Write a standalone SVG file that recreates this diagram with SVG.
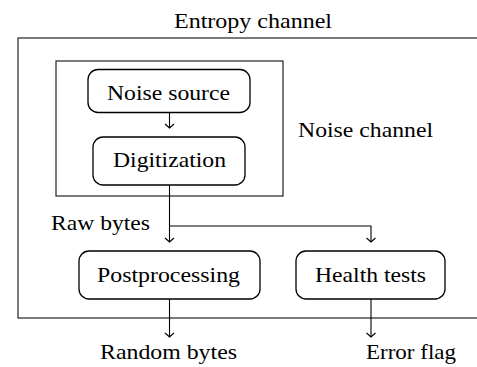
<svg xmlns="http://www.w3.org/2000/svg" width="477" height="367" viewBox="0 0 477 367">
  <style>
    text { font-family: "Liberation Serif", "Times New Roman", serif; font-size: 21px; fill: #000; text-anchor: middle; }
    .frame { fill: none; stroke: #222; stroke-width: 1.2; }
    .node { fill: #fff; stroke: #000; stroke-width: 1.3; }
    .conn { fill: none; stroke: #000; stroke-width: 1.1; marker-end: url(#arr); }
  </style>
  <defs>
    <marker id="arr" markerUnits="userSpaceOnUse" viewBox="-6 -6 12 12" markerWidth="12" markerHeight="12" refX="0" refY="0" orient="auto">
      <path d="M -4 -4.5 Q -1 -1 0 0 Q -1 1 -4 4.5" fill="none" stroke="#000" stroke-width="1.1"/>
    </marker>
  </defs>

  <g id="entropy-channel">
    <rect class="frame" x="18" y="38" width="470" height="280"/>
    <text x="253" y="27.5" textLength="158" lengthAdjust="spacingAndGlyphs">Entropy channel</text>
  </g>
  <g id="noise-channel">
    <rect class="frame" x="56" y="61" width="227" height="135"/>
    <text x="365.5" y="137" textLength="135" lengthAdjust="spacingAndGlyphs">Noise channel</text>
  </g>

  <g id="connectors">
    <path class="conn" d="M 169.5 112.5 V 128"/>
    <path class="conn" d="M 169.5 185 V 242"/>
    <path class="conn" d="M 169.5 226 H 371 V 242"/>
    <path class="conn" d="M 169.5 299 V 337"/>
    <path class="conn" d="M 371 299 V 337"/>
  </g>

  <g id="noise-source">
    <rect class="node" x="88" y="69.5" width="162" height="43" rx="10"/>
    <text x="168.5" y="100" textLength="123" lengthAdjust="spacingAndGlyphs">Noise source</text>
  </g>
  <g id="digitization">
    <rect class="node" x="93" y="137" width="152" height="48" rx="10"/>
    <text x="169.5" y="167" textLength="113" lengthAdjust="spacingAndGlyphs">Digitization</text>
  </g>
  <g id="raw-bytes">
    <text x="100.5" y="230" textLength="99" lengthAdjust="spacingAndGlyphs">Raw bytes</text>
  </g>
  <g id="postprocessing">
    <rect class="node" x="79" y="251" width="181" height="48" rx="10"/>
    <text x="168.5" y="282" textLength="143" lengthAdjust="spacingAndGlyphs">Postprocessing</text>
  </g>
  <g id="health-tests">
    <rect class="node" x="296" y="251" width="149" height="48" rx="10"/>
    <text x="370.5" y="282" textLength="111" lengthAdjust="spacingAndGlyphs">Health tests</text>
  </g>
  <g id="random-bytes">
    <text x="168.5" y="359" textLength="137" lengthAdjust="spacingAndGlyphs">Random bytes</text>
  </g>
  <g id="error-flag">
    <text x="411" y="359" textLength="90" lengthAdjust="spacingAndGlyphs">Error flag</text>
  </g>
</svg>
